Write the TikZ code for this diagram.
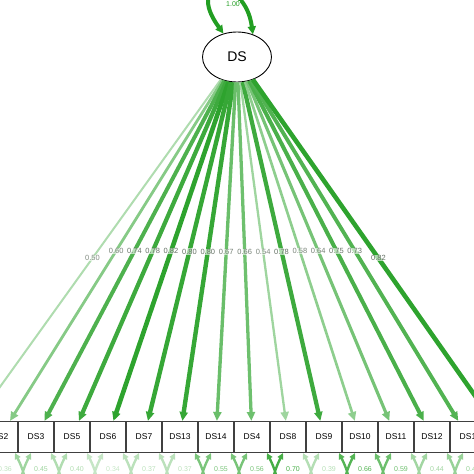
\documentclass[tikz,border=0pt]{standalone}
\usepackage{fontspec}
\setmainfont{Liberation Sans}
\usetikzlibrary{positioning, arrows.meta, shapes.geometric}
\definecolor{semGreen}{RGB}{34,158,34}
\definecolor{labGray}{RGB}{95,108,95}

\tikzset{
  manifest/.style={draw=black!75, line width=1.1pt, minimum width=36pt, minimum height=31pt, inner sep=0pt, font=\fontsize{8.5}{10}\selectfont},
  latent/.style={ellipse, draw=black, line width=0.9pt, minimum width=69pt, minimum height=50pt, inner sep=0pt, font=\fontsize{14}{16}\selectfont},
  loadlab/.style={fill=white, fill opacity=0.6, text opacity=1, inner sep=0.4pt, font=\fontsize{7.5}{8}\selectfont},
  reslab/.style={inner sep=0.5pt, font=\fontsize{7}{8}\selectfont},
  semarrow/.style={-{Triangle[length=9pt,width=8pt]}},
  resarrow/.style={{Triangle[length=6pt,width=6pt]}-{Triangle[length=6pt,width=6pt]}, line width=2.4pt},
}

\begin{document}
\begin{tikzpicture}[x=1pt,y=-1pt]
\useasboundingbox (0,0) rectangle (474,474);
\clip (0,0) rectangle (474,474);

% latent factor
\node[latent] (ds) at (237,57) {DS};

% indicators outside the visible area
\coordinate (offL) at (-36,437);
\coordinate (offR) at (504,437);

% indicators
\foreach \nm/\x in {DS2/0, DS3/36, DS5/72, DS6/108, DS7/144, DS13/180, DS14/216,
                    DS4/252, DS8/288, DS9/324, DS10/360, DS11/396, DS12/432, DS1/468}
  \node[manifest] (\nm) at (\x,437) {\nm};

% loadings
\foreach \nm/\ld in {offL/0.50, DS2/0.60, DS3/0.74, DS5/0.78, DS6/0.82, DS7/0.80,
                     DS13/0.80, DS14/0.67, DS4/0.66, DS8/0.54, DS9/0.78, DS10/0.58,
                     DS11/0.64, DS12/0.75, DS1/0.73, offR/0.82}{
  \pgfmathsetmacro\lp{min(100,max(0,(\ld-0.3)/0.55*100))}
  \pgfmathsetmacro\lw{2+(\ld-0.5)*8}
  \pgfmathsetmacro\tp{65+\lp*0.35}
  \draw[semarrow, line width=\lw pt, draw=semGreen!\lp!white] (ds) -- (\nm)
    node[loadlab, pos=0.5, text=labGray!\tp!white] {\ld};
}

% residual variances
\foreach \nm/\rs in {DS2/0.36, DS3/0.45, DS5/0.40, DS6/0.34, DS7/0.37, DS13/0.37,
                     DS14/0.55, DS4/0.56, DS8/0.70, DS9/0.39, DS10/0.66, DS11/0.59,
                     DS12/0.44, DS1/0.47}{
  \pgfmathsetmacro\rp{min(100,max(0,(\rs-0.18)/0.62*100))}
  \draw[resarrow, draw=semGreen!\rp!white] ([xshift=-21pt]\nm.south)
    .. controls +(24,48) and +(-24,48) .. ([xshift=-5pt]\nm.south);
  \node[reslab, text=semGreen!\rp!white] at ([xshift=5pt,yshift=-16pt]\nm.south) {\rs};
}

% factor variance
\draw[resarrow, line width=4pt, draw=semGreen,
      {Triangle[length=8pt,width=8pt]}-{Triangle[length=8pt,width=8pt]}]
  (ds.120) .. controls +(-40,-55) and +(-8,-60) .. (ds.55);
\node[reslab, fill=white, text=semGreen] (fvar) at (233,4) {1.00};

\end{tikzpicture}
\end{document}
